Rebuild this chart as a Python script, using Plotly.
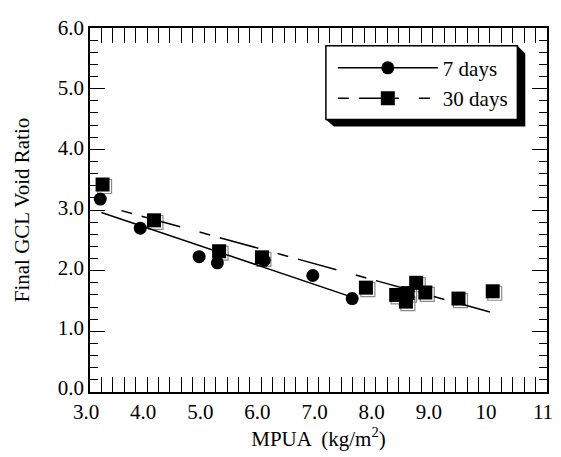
import plotly.graph_objects as go

# ---- data ----
x7 = [3.18, 3.88, 4.91, 5.23, 6.05, 6.90, 7.59]
y7 = [3.18, 2.70, 2.23, 2.13, 2.17, 1.92, 1.54]

x30 = [3.22, 4.12, 5.26, 6.01, 7.83, 8.36, 8.53, 8.56, 8.71, 8.87, 9.45, 10.05]
y30 = [3.42, 2.83, 2.32, 2.22, 1.72, 1.60, 1.49, 1.63, 1.80, 1.64, 1.54, 1.66]

fit7_x = [3.20, 7.60]
fit7_y = [2.96, 1.56]
fit30_x = [3.55, 10.00]
fit30_y = [2.99, 1.32]

series_names = ["7 days", "30 days"]

x_ticks = [3, 4, 5, 6, 7, 8, 9, 10, 11]
x_ticklabels = ["3.0", "4.0", "5.0", "6.0", "7.0", "8.0", "9.0", "10", "11"]
y_ticks = [0, 1, 2, 3, 4, 5, 6]
y_ticklabels = ["0.0", "1.0", "2.0", "3.0", "4.0", "5.0", "6.0"]

# page has an 8px body margin: compensate so the plot area sits at x 90..553, y 22..392
OFF = 8
W, H = 561 - OFF, 457 - OFF
PL, PR, PT, PB = 90, 553, 22, 392          # plot area in page pixels
L, T = PL - OFF, PT - OFF
R = (W + OFF) - PR
B = (H + OFF) - PB
pw, ph = PR - PL, PB - PT
XR = [3, 11]
YR = [0, 6]
FONT = "Liberation Serif"
FS = 21

DASH30 = "11px,10px,40px,20px"


def px_x(p):
    return (p - PL) / pw


def px_y(p):
    return (PB - p) / ph


# shadow offset (px) -> data units for the shifted overlay axes
dx = 2.0 * (XR[1] - XR[0]) / pw
dy = 2.0 * (YR[1] - YR[0]) / ph
# y tick labels: bottom label ~4.5px above its tick, top label level with its tick (as in the reference)
dly = 4.5 * (YR[1] - YR[0]) / ph
label_yrange = [YR[0] - dly, YR[1] + 0.0005]

fig = go.Figure()

# shadow outlines for squares (on shifted hidden axes x/y)
fig.add_trace(go.Scatter(
    x=x30, y=y30, mode="markers", xaxis="x", yaxis="y", showlegend=False,
    marker=dict(symbol="square-open", size=14, color="#8a8a8a", line=dict(width=1.2, color="#8a8a8a")),
    hoverinfo="skip"))

# fit lines
fig.add_trace(go.Scatter(
    x=fit7_x, y=fit7_y, mode="lines", xaxis="x2", yaxis="y2", showlegend=False,
    line=dict(color="black", width=1.5)))
fig.add_trace(go.Scatter(
    x=fit30_x, y=fit30_y, mode="lines", xaxis="x2", yaxis="y2", showlegend=False,
    line=dict(color="black", width=1.5, dash=DASH30)))

# data markers
fig.add_trace(go.Scatter(
    x=x7, y=y7, mode="markers", xaxis="x2", yaxis="y2", showlegend=False,
    marker=dict(symbol="circle", size=13, color="black")))
fig.add_trace(go.Scatter(
    x=x30, y=y30, mode="markers", xaxis="x2", yaxis="y2", showlegend=False,
    marker=dict(symbol="square", size=14, color="black")))

# legend entries (no data, legend only)
fig.add_trace(go.Scatter(
    x=[None], y=[None], mode="lines+markers", name=series_names[0], xaxis="x2", yaxis="y2",
    marker=dict(symbol="circle", size=13, color="black"),
    line=dict(color="black", width=1.5)))
fig.add_trace(go.Scatter(
    x=[None], y=[None], mode="lines+markers", name=series_names[1], xaxis="x2", yaxis="y2",
    marker=dict(symbol="square", size=14, color="black"),
    line=dict(color="black", width=1.5, dash=DASH30)))

axis_common = dict(
    showgrid=False, zeroline=False, showline=True, linecolor="black", linewidth=1.5,
    ticks="inside", ticklen=15, tickwidth=1, tickcolor="black", mirror="allticks",
    tickfont=dict(family=FONT, size=FS, color="black"),
)

fig.update_layout(
    width=W, height=H,
    margin=dict(l=L, r=R, t=T, b=B),
    paper_bgcolor="white", plot_bgcolor="white",
    showlegend=True,
    xaxis=dict(range=[XR[0] - dx, XR[1] - dx], visible=False, fixedrange=True),
    yaxis=dict(range=[YR[0] + dy, YR[1] + dy], visible=False, fixedrange=True),
    xaxis2=dict(overlaying="x", side="bottom", range=XR, tickvals=x_ticks, ticktext=x_ticklabels,
                minor=dict(dtick=0.2, ticklen=7, ticks="inside", tickcolor="black", tickwidth=1),
                ticklabelstandoff=0, ticklabelshift=-4,
                title=dict(text="MPUA  (kg/m<sup>2</sup>)", font=dict(family=FONT, size=FS, color="black"), standoff=6),
                anchor="y2", **axis_common),
    yaxis2=dict(overlaying="y", side="left", range=YR, tickvals=y_ticks,
                showticklabels=False,
                minor=dict(dtick=0.2, ticklen=8, ticks="inside", tickcolor="black", tickwidth=1),
                anchor="x2", **axis_common),
    # labels-only y axis
    yaxis3=dict(overlaying="y", side="left", range=label_yrange, tickvals=y_ticks,
                ticktext=y_ticklabels, showline=False, showgrid=False, zeroline=False, ticks="",
                tickfont=dict(family=FONT, size=FS, color="black"), ticklabelstandoff=5,
                title=dict(text="Final GCL Void Ratio", font=dict(family=FONT, size=FS, color="black"), standoff=22),
                anchor="x2", fixedrange=True),
    legend=dict(
        x=px_x(336), y=px_y(42), xanchor="left", yanchor="top",
        bgcolor="rgba(0,0,0,0)", borderwidth=0, itemwidth=100,
        font=dict(family=FONT, size=FS, color="black"), tracegroupgap=0,
    ),
    shapes=[
        # legend shadow
        dict(type="path", xref="paper", yref="paper", layer="above",
             path="M {a},{b} L {c},{b} L {d},{e} L {d},{f} L {g},{f} L {h},{i} Z".format(
                 a=px_x(329), b=px_y(40), c=px_x(523), d=px_x(531), e=px_y(48),
                 f=px_y(122), g=px_x(337), h=px_x(329), i=px_y(115)),
             fillcolor="black", line=dict(width=0)),
        dict(type="rect", xref="paper", yref="paper", layer="above",
             x0=px_x(329), x1=px_x(523), y0=px_y(115), y1=px_y(40),
             fillcolor="white", line=dict(color="black", width=1.5)),
    ],
)

# an invisible carrier so the labels-only axis y3 is drawn
fig.add_trace(go.Scatter(x=[None], y=[None], xaxis="x2", yaxis="y3", showlegend=False, hoverinfo="skip"))

fig.write_html("out.html")
